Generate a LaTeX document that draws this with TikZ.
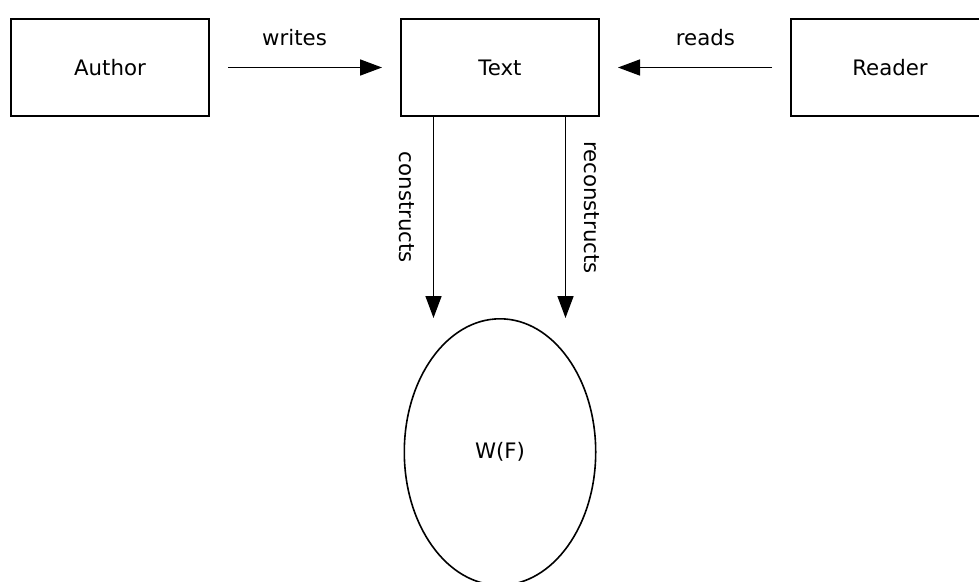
\documentclass[tikz,border=0pt]{standalone}
\usepackage{fontspec}
\setmainfont{DejaVu Sans}
\usetikzlibrary{arrows.meta}
\usetikzlibrary{positioning}
\usetikzlibrary{shapes.geometric}

\begin{document}
\begin{tikzpicture}[x=1pt, y=-1pt, line width=1.6pt,
    font=\fontsize{21.3}{25}\selectfont,
    node distance=190pt,
    box/.style={draw, minimum width=198.4pt, minimum height=97.4pt, inner sep=0pt},
    blob/.style={draw, ellipse, minimum width=191.4pt, minimum height=266.4pt, inner sep=0pt},
    tip/.style={-{Triangle[length=22pt,width=16pt]}},
    arr/.style={tip, shorten <=18pt, shorten >=18pt}]
    \useasboundingbox (0,0) rectangle (979,581);
    \clip (0,0) rectangle (979,581);

    \node[box] (author) at (110,67.5) {Author};
    \node[box, right=of author] (text) {Text};
    \node[box, right=of text] (reader) {Reader};
    \node[blob, below=201pt of text] (wf) {W(F)};

    \coordinate (c1) at ([xshift=-66.5pt]text.south);
    \coordinate (c2) at ([xshift=65.5pt]text.south);

    \draw[arr] (author) -- node[pos=0.445, yshift=30pt] {writes} (text);
    \draw[arr] (reader) -- node[pos=0.445, yshift=30pt] {reads} (text);
    \draw[tip] (c1) -- node[pos=0.45, xshift=-27pt, rotate=-90] {constructs} (c1 |- wf.north);
    \draw[tip] (c2) -- node[pos=0.45, xshift=26pt, rotate=-90] {reconstructs} (c2 |- wf.north);
\end{tikzpicture}
\end{document}
